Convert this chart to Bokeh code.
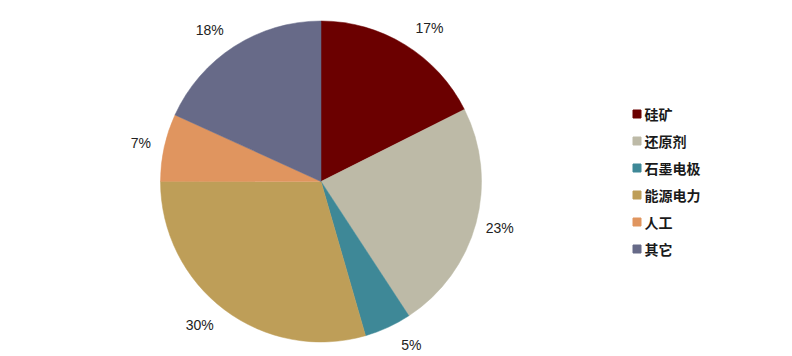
import numpy as np
from bokeh.plotting import figure
from bokeh.models import ColumnDataSource, Range1d
from bokeh.core.properties import value
from bokeh.embed import file_html
from bokeh.resources import INLINE

categories = ["硅矿", "还原剂", "石墨电极", "能源电力", "人工", "其它"]
shares = [17.6, 23.2, 4.75, 29.5, 6.8, 18.2]
labels = ["17%", "23%", "5%", "30%", "7%", "18%"]
colors = ["#6B0000", "#BDBAA7", "#3E8897", "#BE9E58", "#E0955F", "#676A88"]

W, H = 792, 356
cx, cy, R = 320.5, 181.0, 160.5

frac = np.array(shares, dtype=float) / sum(shares)
cum = np.concatenate([[0], np.cumsum(frac)])
# clockwise from 12 o'clock
theta_s = cum[:-1] * 2 * np.pi
theta_e = cum[1:] * 2 * np.pi
theta_m = (theta_s + theta_e) / 2
start = np.pi / 2 - theta_s
end = np.pi / 2 - theta_e

src = ColumnDataSource(dict(start=start, end=end, color=colors))

p = figure(width=W, height=H, x_range=Range1d(0, W), y_range=Range1d(-H, 0),
           output_backend="svg", toolbar_location=None, min_border=0)
p.axis.visible = False
p.grid.visible = False
p.outline_line_color = None
p.background_fill_color = "white"

p.wedge(x=cx, y=-cy, radius=R, start_angle="end", end_angle="start",
        fill_color="color", line_color="color", line_width=0.5, source=src)

gap = R + 11.5
sx, cz = np.sin(theta_m), np.cos(theta_m)
lx = cx + gap * sx + 17 * np.sign(sx) * np.sqrt(np.abs(cz) + 0.3)
ly = -cy + gap * cz + 8 * cz
lsrc = ColumnDataSource(dict(x=lx, y=ly, t=labels))
p.text(x="x", y="y", text="t", source=lsrc, text_align="center", text_baseline="middle",
       text_font=value("Liberation Sans"), text_font_size="14px", text_color="#222222")

idx = np.arange(len(categories))
leg_y = -(113.5 + idx * 27)
legsrc = ColumnDataSource(dict(x=np.full(len(idx), 636.5), y=leg_y, c=colors,
                               tx=np.full(len(idx), 644.0), t=categories))
p.scatter(x="x", y="y", marker="square", size=8, fill_color="c", line_color="c", source=legsrc)
p.text(x="tx", y="y", text="t", source=legsrc, text_align="left", text_baseline="middle",
       text_font=value("Noto Sans CJK SC"), text_font_size="14px", text_font_style="bold",
       text_color="#1a1a1a")

open("out.html", "w").write(file_html(p, INLINE))
